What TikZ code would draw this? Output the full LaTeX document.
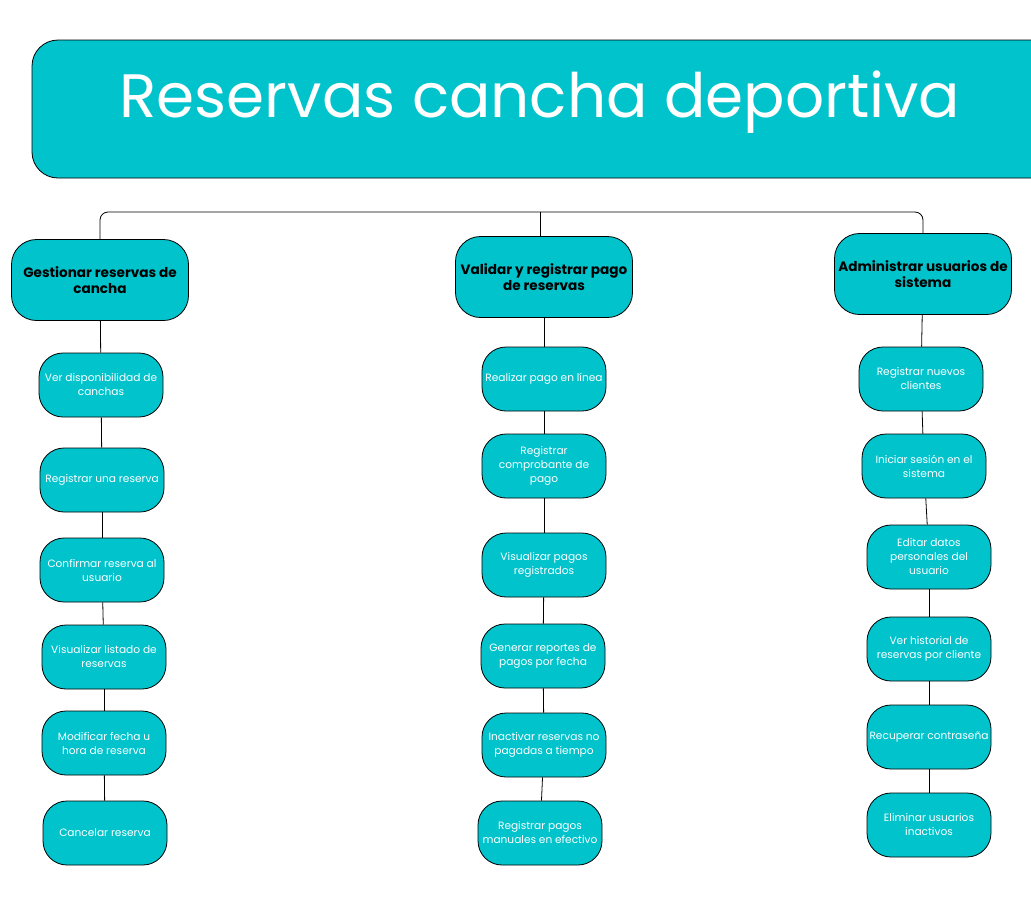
\documentclass[tikz,border=0pt]{standalone}
\usepackage{fontspec}
\setmainfont{Poppins}
\definecolor{teal}{HTML}{00C3CC}
\begin{document}
\begin{tikzpicture}[x=1pt,y=-1pt,
  titlebox/.style={draw=black, line width=0.8pt, fill=teal, rounded corners=26pt},
  headbox/.style={draw=black, line width=0.8pt, fill=teal, rounded corners=25pt,
    minimum width=177pt, minimum height=81pt, align=center, inner sep=2pt,
    font=\fontsize{13.6}{16.5}\selectfont\bfseries, text=black},
  leaf/.style={draw=black, line width=0.8pt, fill=teal, rounded corners=24pt,
    minimum width=124pt, minimum height=64pt, align=center, inner sep=1pt,
    font=\fontsize{10.6}{14}\selectfont, text=white},
  link/.style={draw=black, line width=0.8pt}
]
\clip (0,0) rectangle (1031,903);
\fill[white] (0,0) rectangle (1031,903);
% title
\draw[titlebox] (32,40) rectangle (1080,178);
\node[text=white, font=\fontsize{61.3}{70}\selectfont, anchor=base] (title) at (540,117) {Reservas cancha deportiva};
% headers
\node[headbox] (h1) at (100,280) {Gestionar reservas de\\cancha};
\node[headbox] (h2) at (544,277) {Validar y registrar pago\\de reservas};
\node[headbox] (h3) at (923,274) {Administrar usuarios de\\sistema};
\coordinate (top) at (540,212);
\draw[link, rounded corners=8pt] (h1.north) |- (top) -| (h3.north);
\draw[link] (top) -- (top |- h2.north);
% left column
\node[leaf] (a1) at (101,385) {Ver disponibilidad de\\canchas};
\node[leaf] (a2) at (102,480) {Registrar una reserva};
\node[leaf] (a3) at (102,570) {Confirmar reserva al\\usuario};
\node[leaf] (a4) at (104,657) {Visualizar listado de\\reservas};
\node[leaf] (a5) at (104,743) {Modificar fecha u\\hora de reserva};
\node[leaf] (a6) at (105,833) {Cancelar reserva};
% middle column
\node[leaf] (b1) at (544,379) {Realizar pago en línea};
\node[leaf] (b2) at (544,466) {Registrar\\comprobante de\\pago};
\node[leaf] (b3) at (544,565) {Visualizar pagos\\registrados};
\node[leaf] (b4) at (543,656) {Generar reportes de\\pagos por fecha};
\node[leaf] (b5) at (544,745) {Inactivar reservas no\\pagadas a tiempo};
\node[leaf] (b6) at (540,833) {Registrar pagos\\manuales en efectivo};
% right column
\node[leaf] (c1) at (921,379) {Registrar nuevos\\clientes};
\node[leaf] (c2) at (924,466) {Iniciar sesión en el\\sistema};
\node[leaf] (c3) at (929,557) {Editar datos\\personales del\\usuario};
\node[leaf] (c4) at (929,649) {Ver historial de\\reservas por cliente};
\node[leaf] (c5) at (929,737) {Recuperar contraseña};
\node[leaf] (c6) at (929,825) {Eliminar usuarios\\inactivos};
% connectors
\draw[link] (h1) -- (a1);
\draw[link] (a1) -- (a2);
\draw[link] (a2) -- (a3);
\draw[link] (a3) -- (a4);
\draw[link] (a4) -- (a5);
\draw[link] (a5) -- (a6);
\draw[link] (h2) -- (b1);
\draw[link] (b1) -- (b2);
\draw[link] (b2) -- (b3);
\draw[link] (b3) -- (b4);
\draw[link] (b4) -- (b5);
\draw[link] (b5) -- (b6);
\draw[link] (h3) -- (c1);
\draw[link] (c1) -- (c2);
\draw[link] (c2) -- (c3);
\draw[link] (c3) -- (c4);
\draw[link] (c4) -- (c5);
\draw[link] (c5) -- (c6);
\end{tikzpicture}
\end{document}
